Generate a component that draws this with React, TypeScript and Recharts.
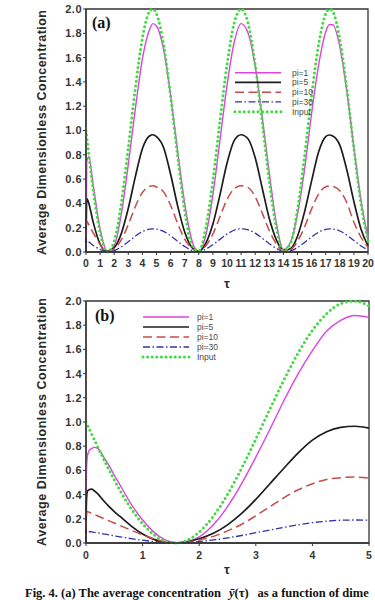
import React from 'react';
import { LineChart, Line, XAxis, YAxis, ReferenceArea } from 'recharts';

// ---- panel (a): tau from 0 to 20 ----
const tauA = [0, 0.05, 0.2, 0.5, 1, 1.5, 2, 2.5, 3, 3.5, 4, 4.5, 4.75, 5, 5.5, 6, 6.5, 7, 7.5, 8, 8.5, 9, 9.5, 10, 10.5, 11, 11.5, 12, 12.5, 13, 13.5, 14, 14.5, 15, 15.5, 16, 16.5, 17, 17.25, 17.5, 18, 18.5, 19, 19.5, 20];
const inputA = [1.0, 0.95, 0.8, 0.52, 0.16, 0.0, 0.09, 0.4, 0.86, 1.35, 1.76, 1.98, 2.0, 1.96, 1.71, 1.28, 0.79, 0.34, 0.06, 0.01, 0.2, 0.59, 1.08, 1.54, 1.88, 2.0, 1.88, 1.54, 1.07, 0.58, 0.2, 0.01, 0.07, 0.35, 0.79, 1.29, 1.71, 1.96, 2.0, 1.98, 1.75, 1.34, 0.85, 0.4, 0.09];
const pi1A = [0, 0.74, 0.785, 0.56, 0.19, 0.01, 0.05, 0.31, 0.72, 1.18, 1.59, 1.83, 1.88, 1.86, 1.67, 1.29, 0.83, 0.4, 0.1, 0.0, 0.14, 0.47, 0.92, 1.37, 1.72, 1.88, 1.8, 1.53, 1.11, 0.65, 0.24, 0.02, 0.08, 0.31, 0.68, 1.14, 1.54, 1.81, 1.87, 1.87, 1.69, 1.32, 0.86, 0.43, 0.11];
const pi5A = [0, 0.44, 0.4, 0.25, 0.065, 0.003, 0.035, 0.15, 0.36, 0.62, 0.85, 0.955, 0.965, 0.95, 0.86, 0.64, 0.38, 0.165, 0.04, 0.006, 0.073, 0.23, 0.47, 0.73, 0.915, 0.965, 0.93, 0.775, 0.525, 0.275, 0.1, 0.014, 0.027, 0.13, 0.33, 0.585, 0.825, 0.95, 0.963, 0.955, 0.88, 0.675, 0.415, 0.19, 0.05];
const pi10A = [0, 0.255, 0.225, 0.16, 0.062, 0.003, 0.025, 0.1, 0.225, 0.375, 0.49, 0.54, 0.545, 0.535, 0.495, 0.385, 0.235, 0.105, 0.03, 0.005, 0.051, 0.148, 0.29, 0.432, 0.52, 0.545, 0.53, 0.455, 0.32, 0.175, 0.067, 0.01, 0.019, 0.088, 0.205, 0.355, 0.478, 0.537, 0.544, 0.54, 0.505, 0.405, 0.245, 0.123, 0.038];
const pi30A = [0, 0.093, 0.083, 0.056, 0.022, 0.001, 0.012, 0.042, 0.085, 0.13, 0.168, 0.188, 0.19, 0.188, 0.17, 0.133, 0.088, 0.045, 0.014, 0.002, 0.023, 0.06, 0.104, 0.147, 0.179, 0.19, 0.182, 0.155, 0.113, 0.068, 0.03, 0.005, 0.009, 0.037, 0.079, 0.124, 0.163, 0.186, 0.19, 0.189, 0.173, 0.139, 0.094, 0.05, 0.017];

// ---- panel (b): tau from 0 to 5 ----
const tauB = [0, 0.005, 0.02, 0.05, 0.1, 0.15, 0.2, 0.3, 0.4, 0.5, 0.6, 0.8, 1, 1.2, 1.4, 1.6, 1.8, 2, 2.25, 2.5, 2.75, 3, 3.25, 3.5, 3.75, 4, 4.25, 4.5, 4.75, 5];
const inputB = [1.0, 0.995, 0.98, 0.95, 0.9, 0.851, 0.801, 0.704, 0.611, 0.521, 0.435, 0.283, 0.159, 0.068, 0.015, 0.0, 0.026, 0.091, 0.222, 0.402, 0.618, 0.859, 1.108, 1.351, 1.572, 1.757, 1.895, 1.978, 1.999, 1.959];
const pi1B = [0, 0.55, 0.7, 0.76, 0.78, 0.79, 0.785, 0.72, 0.645, 0.56, 0.48, 0.32, 0.19, 0.09, 0.025, 0.002, 0.012, 0.05, 0.15, 0.3, 0.49, 0.71, 0.94, 1.18, 1.4, 1.59, 1.75, 1.84, 1.88, 1.865];
const pi5B = [0, 0.3, 0.42, 0.44, 0.445, 0.43, 0.41, 0.355, 0.305, 0.26, 0.22, 0.14, 0.075, 0.03, 0.007, 0.0, 0.012, 0.035, 0.08, 0.15, 0.245, 0.36, 0.49, 0.62, 0.745, 0.85, 0.92, 0.955, 0.965, 0.95];
const pi10B = [0, 0.2, 0.26, 0.255, 0.245, 0.235, 0.225, 0.205, 0.185, 0.165, 0.145, 0.105, 0.068, 0.035, 0.01, 0.0, 0.008, 0.025, 0.055, 0.1, 0.155, 0.225, 0.3, 0.375, 0.44, 0.49, 0.525, 0.54, 0.545, 0.535];
const pi30B = [0, 0.08, 0.096, 0.095, 0.092, 0.088, 0.084, 0.076, 0.068, 0.059, 0.051, 0.036, 0.023, 0.012, 0.004, 0.0, 0.004, 0.012, 0.025, 0.042, 0.062, 0.085, 0.107, 0.13, 0.15, 0.168, 0.18, 0.188, 0.19, 0.188];

const ticksA = [0, 1, 2, 3, 4, 5, 6, 7, 8, 9, 10, 11, 12, 13, 14, 15, 16, 17, 18, 19, 20];
const ticksB = [0, 1, 2, 3, 4, 5];
const yTicks = [0, 0.2, 0.4, 0.6, 0.8, 1.0, 1.2, 1.4, 1.6, 1.8, 2.0];

const seriesNames = ['pi=1', 'pi=5', 'pi=10', 'pi=30', 'Input'];
const seriesKeys = ['pi1', 'pi5', 'pi10', 'pi30', 'input'];

const styles: Record<string, any> = {
  pi1: { stroke: '#dc45dc', strokeWidth: 1.4 },
  pi5: { stroke: '#1c1c1c', strokeWidth: 1.7 },
  pi10: { stroke: '#c84b48', strokeWidth: 1.5, strokeDasharray: '9 4.5' },
  pi30: { stroke: '#3232a6', strokeWidth: 1.3, strokeDasharray: '7 2.5 1.5 2.5' },
  input: { stroke: '#3ddc3d', strokeWidth: 3, strokeDasharray: '0 4.6', strokeLinecap: 'round' },
};

const rowsA = tauA.map((t, i) => ({ tau: t, pi1: pi1A[i], pi5: pi5A[i], pi10: pi10A[i], pi30: pi30A[i], input: inputA[i] }));
const rowsB = tauB.map((t, i) => ({ tau: t, pi1: pi1B[i], pi5: pi5B[i], pi10: pi10B[i], pi30: pi30B[i], input: inputB[i] }));

const yTickFont = { fontSize: 11, fill: '#363636', fontFamily: 'Liberation Sans', fontWeight: 'bold', letterSpacing: 0.5 };
const xTickFont = { fontSize: 10.5, fill: '#363636', fontFamily: 'Liberation Sans', fontWeight: 'bold' };
const axisColor = '#333';

function Panel({ rows, xMax, xTicks, top, margin, tickMargin }: any) {
  return (
    <div style={{ position: 'absolute', left: 0, top }}>
      <LineChart width={375} height={290} data={rows} margin={margin}>
        <XAxis dataKey="tau" type="number" domain={[0, xMax]} ticks={xTicks} interval={0}
          height={30} tickSize={3} tickMargin={tickMargin} tick={xTickFont}
          axisLine={{ stroke: axisColor, strokeWidth: 1.3 }} tickLine={{ stroke: axisColor }} />
        <YAxis type="number" domain={[0, 2]} ticks={yTicks} interval={0} width={86}
          tickSize={3} tickMargin={1} tick={yTickFont} tickFormatter={(v: number) => v.toFixed(1)}
          axisLine={{ stroke: axisColor, strokeWidth: 1.3 }} tickLine={{ stroke: axisColor }} />
        <ReferenceArea x1={0} x2={xMax} y1={0} y2={2} fill="none" fillOpacity={0} stroke={axisColor} strokeWidth={1.3} />
        {seriesKeys.map((k) => (
          <Line key={k} dataKey={k} type="monotone" dot={false} activeDot={false}
            isAnimationActive={false} {...styles[k]} />
        ))}
      </LineChart>
    </div>
  );
}

function LegendBox({ x0, x1, tx, y0, dy }: any) {
  return (
    <g>
      {seriesKeys.map((k, i) => {
        const s = styles[k];
        const y = y0 + i * dy;
        return (
          <g key={k}>
            <line x1={x0} x2={x1} y1={y} y2={y} stroke={s.stroke} strokeWidth={s.strokeWidth}
              strokeDasharray={s.strokeDasharray} strokeLinecap={s.strokeLinecap} />
            <text x={tx} y={y + 3} fontSize={8.5} fill="#4a4a4a" fontFamily="Liberation Sans">{seriesNames[i]}</text>
          </g>
        );
      })}
    </g>
  );
}

export default function App() {
  const titleFont = { fontFamily: 'Liberation Sans', fontWeight: 'bold', fill: '#2a2a2a' } as any;
  return (
    <div style={{ position: 'absolute', left: 0, top: 0, width: 375, height: 600, background: '#fff', overflow: 'hidden' }}>
      <Panel rows={rowsA} xMax={20} xTicks={ticksA} top={0} tickMargin={5}
        margin={{ top: 9, right: 7, left: 0, bottom: 8 }} />
      <Panel rows={rowsB} xMax={5} xTicks={ticksB} top={290} tickMargin={6}
        margin={{ top: 11, right: 6, left: 0, bottom: 7 }} />
      <svg width={375} height={600} style={{ position: 'absolute', left: 0, top: 0, pointerEvents: 'none' }}>
        <text transform="translate(45.5,132.5) rotate(-90)" textAnchor="middle" fontSize={12.5}
          textLength={245} lengthAdjust="spacing" {...titleFont}>Average Dimensionless Concentration</text>
        <text transform="translate(45.5,422) rotate(-90)" textAnchor="middle" fontSize={12.5}
          textLength={248} lengthAdjust="spacing" {...titleFont}>Average Dimensionless Concentration</text>
        <text x={227} y={288} textAnchor="middle" fontSize={13} {...titleFont}>τ</text>
        <text x={227} y={574} textAnchor="middle" fontSize={13} {...titleFont}>τ</text>
        <text x={92} y={28} fontSize={16} fontFamily="Liberation Serif" fontWeight="bold" fill="#111">(a)</text>
        <text x={95} y={321} fontSize={16} fontFamily="Liberation Serif" fontWeight="bold" fill="#111">(b)</text>
        <LegendBox x0={235} x1={281} tx={292} y0={72.7} dy={9.75} />
        <LegendBox x0={143} x1={189} tx={197} y0={317} dy={10} />
        <text x={25} y={597} fontSize={12.5} fontFamily="Liberation Serif" fontWeight="bold" fill="#111">
          Fig. 4. (a) The average concentration
          <tspan fontStyle="italic" dx={8}>ȳ</tspan>
          <tspan>(τ)</tspan>
          <tspan dx={9}>as a function of dime</tspan>
        </text>
      </svg>
    </div>
  );
}
